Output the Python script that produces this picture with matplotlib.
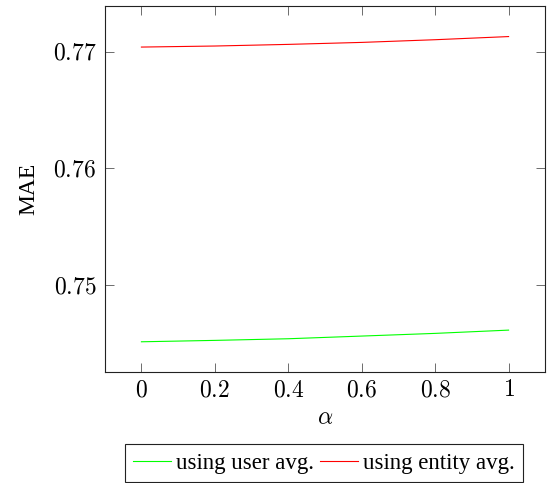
import matplotlib
matplotlib.use("Agg")
import matplotlib.pyplot as plt

alpha = [0.0, 0.2, 0.4, 0.6, 0.8, 1.0]
mae_user = [0.74514, 0.74526, 0.74540, 0.74563, 0.74586, 0.74614]
mae_entity = [0.77040, 0.77049, 0.77063, 0.77080, 0.77103, 0.77130]
xticks = [0, 0.2, 0.4, 0.6, 0.8, 1]
xticklabels = ["$0$", "$0.2$", "$0.4$", "$0.6$", "$0.8$", "$1$"]
yticks = [0.75, 0.76, 0.77]
yticklabels = ["$0.75$", "$0.76$", "$0.77$"]

plt.rcParams['mathtext.fontset'] = 'cm'
plt.rcParams['font.family'] = ['Liberation Serif', 'DejaVu Serif']

W, H = 551, 483
fig = plt.figure(figsize=(W / 100, H / 100), dpi=100)
left, right, top, bottom = 104.7, 545.3, 6, 372
ax = fig.add_axes([left / W, 1 - bottom / H, (right - left) / W, (bottom - top) / H])

ax.plot(alpha, mae_user, color=(0, 1, 0), lw=0.8, label="using user avg.")
ax.plot(alpha, mae_entity, color=(1, 0, 0), lw=0.8, label="using entity avg.")

ax.set_xlim(-0.1, 1.1)
ax.set_ylim(0.74255, 0.77392)
ax.set_xticks(xticks)
ax.set_xticklabels(xticklabels)
ax.set_yticks(yticks)
ax.set_yticklabels(yticklabels)
ax.tick_params(direction='in', length=6.5, width=0.6, color='#555555',
               top=True, right=True, labelsize=17, pad=6)
for s in ax.spines.values():
    s.set_linewidth(0.8)
    s.set_color('#222222')

ax.set_xlabel(r"$\alpha$", fontsize=17, labelpad=5)
ax.set_ylabel("MAE", fontsize=17, labelpad=10)

leg = fig.legend(loc='center', bbox_to_anchor=(324 / W, 1 - 463 / H), ncol=2,
                 fontsize=16.5, handlelength=1.66, handletextpad=0.22,
                 columnspacing=0.26, borderpad=0.36, fancybox=False,
                 edgecolor='#222222', framealpha=1)
leg.get_frame().set_linewidth(0.8)

fig.savefig("out.png", dpi=100)
